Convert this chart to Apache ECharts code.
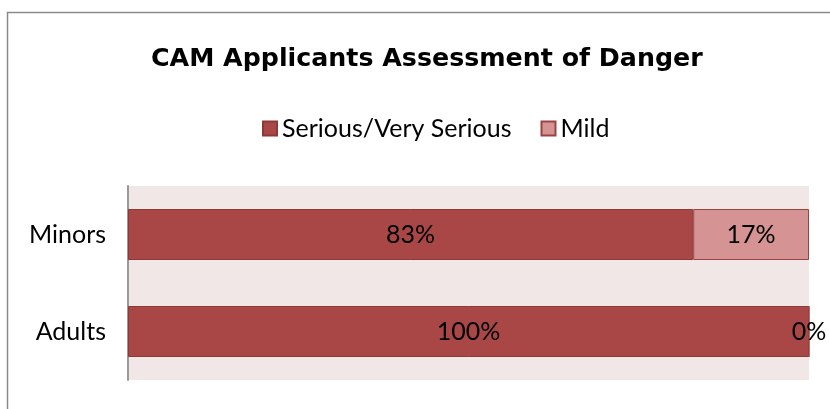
<!DOCTYPE html>
<html>
<head>
<meta charset="utf-8">
<script src="https://cdn.jsdelivr.net/npm/echarts@6/dist/echarts.min.js"></script>
<style>
    html, body { margin: 0; padding: 0; background: #fff; }
    #chart { width: 830px; height: 409px; }
</style>
</head>
<body>
<div id="chart"></div>
<script>
    // chart data
    const categories = ['Minors', 'Adults'];
    const seriousValues = [83, 100];
    const mildValues = [17, 0];
    const seriesNames = ['Serious/Very Serious', 'Mild'];

    const FONT = 'Lato';
    const chart = echarts.init(document.getElementById('chart'));

    const label = {
        show: true,
        position: 'inside',
        formatter: p => p.value + '%',
        color: '#000',
        fontFamily: FONT,
        fontSize: 25,
        padding: [6, 0, 0, 0]
    };

    const option = {
        backgroundColor: '#fff',
        animation: false,
        title: {
            text: 'CAM Applicants Assessment of Danger',
            left: 146,
            top: 42,
            textStyle: {fontFamily: 'DejaVu Sans', fontWeight: 'bold', fontSize: 25.3, color: '#000'}
        },
        legend: {
            top: 111,
            left: 257,
            itemWidth: 14,
            itemHeight: 14,
            itemGap: 29,
            icon: 'rect',
            textStyle: {fontFamily: FONT, fontSize: 25, color: '#000'},
            data: seriesNames
        },
        grid: {
            left: 128,
            right: 21,
            top: 186,
            bottom: 29,
            show: true,
            backgroundColor: '#F1E7E7',
            borderWidth: 0
        },
        xAxis: {
            type: 'value',
            min: 0,
            max: 100,
            show: false
        },
        yAxis: {
            type: 'category',
            inverse: true,
            data: categories,
            axisLine: {show: true, lineStyle: {color: '#999', width: 2}},
            axisTick: {show: false},
            axisLabel: {fontFamily: FONT, fontSize: 25, color: '#000', margin: 22, padding: [7, 0, 0, 0]}
        },
        series: [
            {
                name: seriesNames[0],
                type: 'bar',
                stack: 'total',
                barWidth: 51,
                data: seriousValues,
                itemStyle: {color: '#A84745', borderColor: '#8C3937', borderWidth: 1},
                label
            },
            {
                name: seriesNames[1],
                type: 'bar',
                stack: 'total',
                barWidth: 51,
                data: mildValues,
                itemStyle: {color: '#D59393', borderColor: '#9A4442', borderWidth: 1},
                label
            }
        ],
        graphic: [{
            type: 'rect',
            shape: {x: 7.5, y: 12.5, width: 900, height: 500},
            style: {fill: 'none', stroke: '#8a8a8a', lineWidth: 1.5},
            silent: true
        }]
    };

    chart.setOption(option);
</script>
</body>
</html>
